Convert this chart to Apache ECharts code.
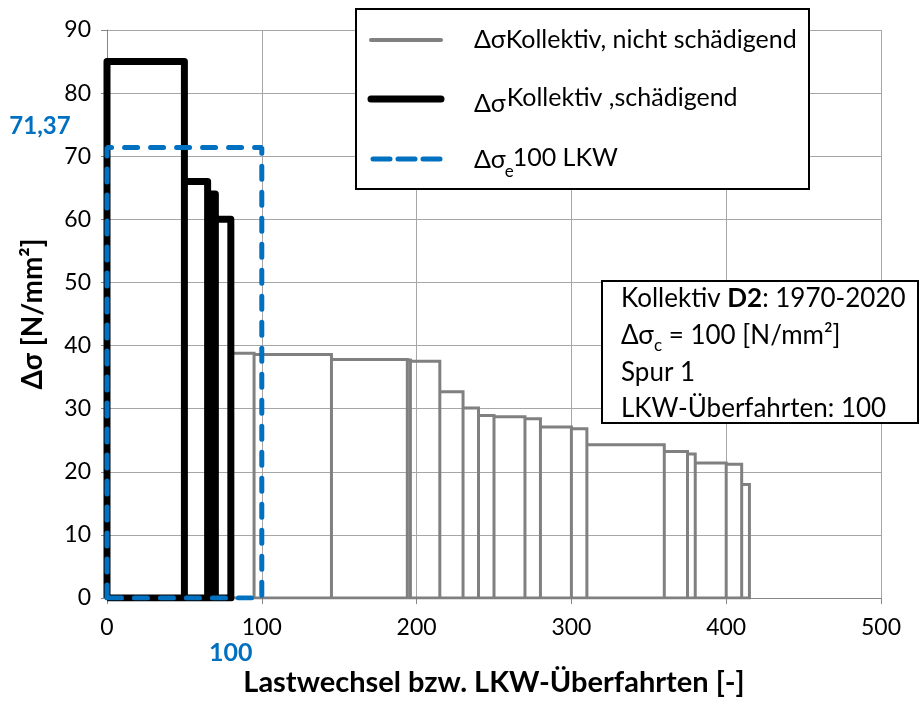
<!DOCTYPE html>
<html>
<head>
<meta charset="utf-8">
<script src="https://cdn.jsdelivr.net/npm/echarts@6/dist/echarts.min.js"></script>
<style>
html,body{margin:0;padding:0;background:#fff;}
#c{width:923px;height:702px;}
</style>
</head>
<body>
<div id="c"></div>
<script>
// ---- data ----
const blackEdges = [0, 50, 65, 67.5, 70, 80];
const blackLevels = [85, 66, 64, 64, 60];

const grayEdges = [80, 95, 145, 194, 196, 215, 230, 240, 250, 270, 280, 300, 310, 360, 375, 380, 400, 410, 415];
const grayLevels = [38.8, 38.6, 37.8, 37.7, 37.5, 32.7, 30.1, 28.9, 28.7, 28.4, 27.1, 26.8, 24.3, 23.2, 22.8, 21.4, 21.2, 18.0];

const blueEdges = [0, 100];
const blueLevels = [71.37];

const xTicks = [0, 100, 200, 300, 400, 500];
const yTicks = [0, 10, 20, 30, 40, 50, 60, 70, 80, 90];

const legendNames = ['Kollektiv, nicht schädigend', 'Kollektiv ,schädigend', '100 LKW'];
const infoLines = ['Spur 1', 'LKW-Überfahrten: 100'];

// build step outlines from edges/levels
function steps(edges, levels) {
  const pts = [[edges[0], 0]];
  for (let i = 0; i < levels.length; i++) {
    pts.push([edges[i], levels[i]]);
    pts.push([edges[i + 1], levels[i]]);
    pts.push([edges[i + 1], 0]);
  }
  pts.push([edges[0], 0]);
  return pts;
}

const FF = 'Lato, "Open Sans", "DejaVu Sans", sans-serif';
const mctx = document.createElement('canvas').getContext('2d');
function tw(t, size, weight) {
  mctx.font = (weight || 'normal') + ' ' + size + 'px ' + FF;
  return mctx.measureText(t).width;
}

const chart = echarts.init(document.getElementById('c'), null, {renderer: 'canvas'});

const axisCommon = {
  type: 'value',
  axisLine: {show: true, lineStyle: {color: '#868686', width: 1}},
  axisTick: {show: true, inside: false, length: 6, lineStyle: {color: '#868686'}},
  splitLine: {show: true, lineStyle: {color: '#a6a6a6', width: 1}},
  axisLabel: {color: '#000', fontSize: 23, fontFamily: FF},
  nameLocation: 'middle',
  nameTextStyle: {color: '#000', fontWeight: 'bold', fontFamily: FF}
};

chart.setOption({
  animation: false,
  backgroundColor: '#fff',
  grid: {left: 107, right: 42, top: 30, bottom: 101, containLabel: false},
  xAxis: Object.assign({}, axisCommon, {
    min: xTicks[0], max: xTicks[xTicks.length - 1], interval: xTicks[1] - xTicks[0],
    name: 'Lastwechsel bzw. LKW-Überfahrten [-]', nameGap: 70,
    nameTextStyle: Object.assign({}, axisCommon.nameTextStyle, {fontSize: 29}),
    axisLabel: Object.assign({}, axisCommon.axisLabel, {margin: 18})
  }),
  yAxis: Object.assign({}, axisCommon, {
    min: yTicks[0], max: yTicks[yTicks.length - 1], interval: yTicks[1] - yTicks[0],
    name: 'Δσ [N/mm²]', nameGap: 60, nameRotate: 90,
    nameTextStyle: Object.assign({}, axisCommon.nameTextStyle, {fontSize: 28}),
    axisLabel: Object.assign({}, axisCommon.axisLabel, {margin: 16})
  }),
  series: [
    {type: 'line', name: legendNames[0], data: steps(grayEdges, grayLevels), symbol: 'none',
     lineStyle: {color: '#808080', width: 3, join: 'miter'}, z: 2},
    {type: 'line', name: legendNames[1], data: steps(blackEdges, blackLevels), symbol: 'none',
     lineStyle: {color: '#000', width: 7, join: 'round'}, z: 3},
    {type: 'line', name: legendNames[2], data: steps(blueEdges, blueLevels), symbol: 'none',
     lineStyle: {color: '#0070C0', width: 5, type: [13, 13], cap: 'round'}, z: 4}
  ]
});

// ---- overlay texts / legend / info box ----
const p71 = chart.convertToPixel({gridIndex: 0}, [0, blueLevels[0]]);
const p100 = chart.convertToPixel({gridIndex: 0}, [blueEdges[1], 0]);

const LF = 25; // legend font
const lx = 474;
const g = [];
// legend box
g.push({type: 'rect', shape: {x: 356, y: 9, width: 453, height: 180}, style: {fill: '#fff', stroke: '#000', lineWidth: 2}, z: 10});
g.push({type: 'line', shape: {x1: 371, y1: 40, x2: 441, y2: 40}, style: {stroke: '#808080', lineWidth: 4, lineCap: 'round'}, z: 11});
g.push({type: 'line', shape: {x1: 371, y1: 99, x2: 441, y2: 99}, style: {stroke: '#000', lineWidth: 7, lineCap: 'round'}, z: 11});
g.push({type: 'line', shape: {x1: 373, y1: 159, x2: 441, y2: 159}, style: {stroke: '#0070C0', lineWidth: 5, lineCap: 'round', lineDash: [17, 8]}, z: 11});
const wDs = tw('Δσ', LF);
// entry 1
g.push({type: 'text', x: lx, y: 40, style: {text: 'Δσ', font: LF + 'px ' + FF, fill: '#000', textVerticalAlign: 'middle'}, z: 12});
g.push({type: 'text', x: lx + wDs, y: 40, style: {text: legendNames[0], font: LF + 'px ' + FF, fill: '#000', textVerticalAlign: 'middle'}, z: 12});
// entry 2
g.push({type: 'text', x: lx, y: 104, style: {text: 'Δσ', font: LF + 'px ' + FF, fill: '#000', textVerticalAlign: 'middle'}, z: 12});
g.push({type: 'text', x: lx + wDs + 1, y: 98, style: {text: legendNames[1], font: LF + 'px ' + FF, fill: '#000', textVerticalAlign: 'middle'}, z: 12});
// entry 3
g.push({type: 'text', x: lx, y: 160, style: {text: 'Δσ', font: LF + 'px ' + FF, fill: '#000', textVerticalAlign: 'middle'}, z: 12});
g.push({type: 'text', x: lx + wDs - 1, y: 172, style: {text: 'e', font: '17px ' + FF, fill: '#000', textVerticalAlign: 'middle'}, z: 12});
g.push({type: 'text', x: lx + wDs + 7, y: 158, style: {text: legendNames[2], font: LF + 'px ' + FF, fill: '#000', textVerticalAlign: 'middle'}, z: 12});

// info box
const IF = 26;
const ix = 621;
g.push({type: 'rect', shape: {x: 602, y: 281, width: 316, height: 142}, style: {fill: '#fff', stroke: '#000', lineWidth: 2}, z: 10});
g.push({type: 'text', x: ix, y: 299, style: {
  text: '{n|Kollektiv }{b|D2}{n|: 1970-2020}',
  rich: {n: {fontSize: IF, fontFamily: FF, color: '#000'}, b: {fontSize: IF, fontFamily: FF, fontWeight: 'bold', color: '#000'}},
  textVerticalAlign: 'middle'}, z: 12});
const wDs2 = tw('Δσ', IF);
g.push({type: 'text', x: ix, y: 336, style: {text: 'Δσ', font: IF + 'px ' + FF, fill: '#000', textVerticalAlign: 'middle'}, z: 12});
g.push({type: 'text', x: ix + wDs2, y: 346, style: {text: 'c', font: '17px ' + FF, fill: '#000', textVerticalAlign: 'middle'}, z: 12});
g.push({type: 'text', x: ix + wDs2 + tw('c', 17), y: 336, style: {text: ' = 100 [N/mm²]', font: IF + 'px ' + FF, fill: '#000', textVerticalAlign: 'middle'}, z: 12});
g.push({type: 'text', x: ix, y: 373, style: {text: infoLines[0], font: IF + 'px ' + FF, fill: '#000', textVerticalAlign: 'middle'}, z: 12});
g.push({type: 'text', x: ix, y: 409, style: {text: infoLines[1], font: IF + 'px ' + FF, fill: '#000', textVerticalAlign: 'middle'}, z: 12});

// blue value labels
g.push({type: 'text', x: p71[0] - 67, y: p71[1] - 21, style: {text: String(blueLevels[0]).replace('.', ','), font: 'bold 24px ' + FF, fill: '#0070C0', textAlign: 'center', textVerticalAlign: 'middle'}, z: 12});
g.push({type: 'text', x: p100[0] - 31, y: p100[1] + 55, style: {text: String(blueEdges[1]), font: 'bold 25px ' + FF, fill: '#0070C0', textAlign: 'center', textVerticalAlign: 'middle'}, z: 12});

chart.setOption({graphic: {elements: g}});
</script>
</body>
</html>
